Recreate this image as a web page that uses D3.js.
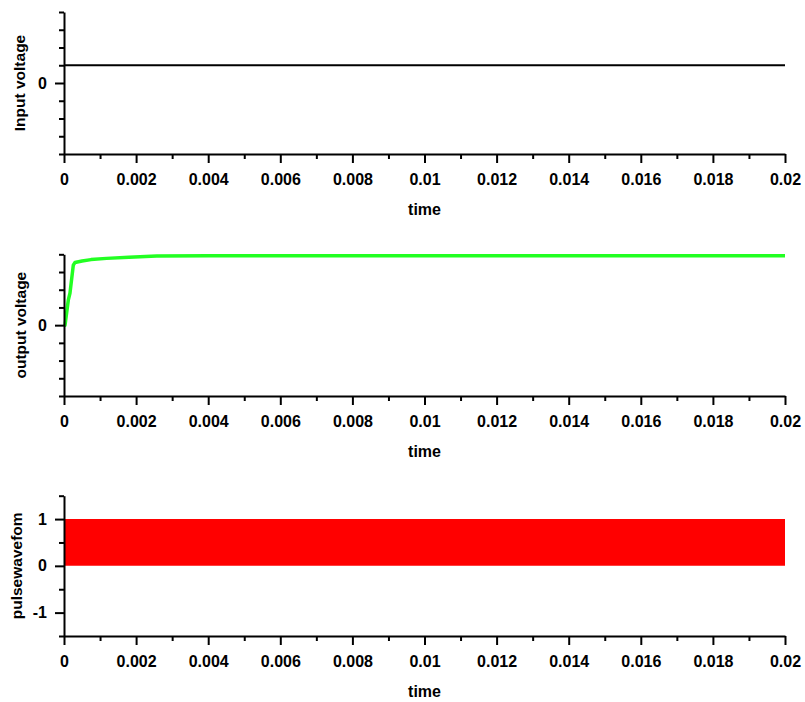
<!DOCTYPE html>
<html>
<head>
<meta charset="utf-8">
<script src="https://cdn.jsdelivr.net/npm/d3@7"></script>
<style>
  html, body { margin: 0; padding: 0; background: #fff; }
  svg { display: block; }
  text { font-family: "Liberation Sans", Arial, sans-serif; font-weight: bold; fill: #000; }
</style>
</head>
<body>
<svg id="chart" width="805" height="702"></svg>
<script>
// ---- data ----
const xTicks = [0, 0.002, 0.004, 0.006, 0.008, 0.01, 0.012, 0.014, 0.016, 0.018, 0.02];
const xMinorTicks = [0.001, 0.003, 0.005, 0.007, 0.009, 0.011, 0.013, 0.015, 0.017, 0.019];
const xTickLabels = ["0", "0.002", "0.004", "0.006", "0.008", "0.01", "0.012", "0.014", "0.016", "0.018", "0.02"];
const xLabel = "time";

const voltTicks = [0];
const voltMinorTicks = [-4, -3, -2, -1, 1, 2, 3, 4];
const voltTickLabels = ["0"];
const voltDomain = [-4, 4];

const pulseTicks = [-1, 0, 1];
const pulseMinorTicks = [-1.5, -0.5, 0.5, 1.5];
const pulseTickLabels = ["-1", "0", "1"];
const pulseDomain = [-1.5, 1.5];

const inputTime = [0, 0.02];
const inputVoltage = [1, 1];

const outputTime = [0, 0.0000277, 0.000119, 0.000166, 0.000258, 0.000305, 0.0005, 0.00075, 0.00118, 0.0018, 0.00257, 0.004, 0.01, 0.02];
const outputVoltage = [0, 0, 1.41, 1.81, 3.39, 3.54, 3.62, 3.7, 3.77, 3.84, 3.9, 3.92, 3.92, 3.92];

const pulseTime = [0, 0.02];
const pulseHigh = [1, 1];
const pulseLow = [0, 0];

const yLabels = ["Input voltage", "output voltage", "pulsewavefom"];

// ---- layout ----
const svg = d3.select("#chart");
const left = 64, right = 785;
const panels = [
  { top: 12, bottom: 154, domain: voltDomain, ticks: voltTicks, minor: voltMinorTicks, labels: voltTickLabels, ylab: yLabels[0], ylabX: 25 },
  { top: 254.3, bottom: 396, domain: voltDomain, ticks: voltTicks, minor: voltMinorTicks, labels: voltTickLabels, ylab: yLabels[1], ylabX: 26 },
  { top: 495.7, bottom: 636, domain: pulseDomain, ticks: pulseTicks, minor: pulseMinorTicks, labels: pulseTickLabels, ylab: yLabels[2], ylabX: 22 }
];

const x = d3.scaleLinear().domain([0, 0.02]).range([left, right]);

panels.forEach((p, i) => {
  const y = d3.scaleLinear().domain(p.domain).range([p.bottom, p.top]);
  p.y = y;
  const g = svg.append("g");

  // data marks
  if (i === 0) {
    const line = d3.line().x((d, k) => x(inputTime[k])).y(d => y(d));
    g.append("path").datum(inputVoltage).attr("d", line)
      .attr("fill", "none").attr("stroke", "#000").attr("stroke-width", 2);
  } else if (i === 1) {
    const line = d3.line().x((d, k) => x(outputTime[k])).y(d => y(d));
    g.append("path").datum(outputVoltage).attr("d", line)
      .attr("fill", "none").attr("stroke", "#22ff22").attr("stroke-width", 3.5)
      .attr("stroke-linejoin", "round");
  } else {
    const area = d3.area().x((d, k) => x(pulseTime[k])).y0((d, k) => y(pulseLow[k])).y1(d => y(d));
    g.append("path").datum(pulseHigh).attr("d", area).attr("fill", "#ff0000");
  }

  // x axis major
  const xAxis = d3.axisBottom(x).tickValues(xTicks)
    .tickFormat((d, k) => xTickLabels[k]).tickSize(9).tickSizeOuter(0).tickPadding(11);
  const gx = g.append("g").attr("transform", `translate(0,${p.bottom})`).call(xAxis);
  // x axis minor
  const gxm = g.append("g").attr("transform", `translate(0,${p.bottom})`)
    .call(d3.axisBottom(x).tickValues(xMinorTicks).tickFormat("").tickSize(5).tickSizeOuter(0));
  gxm.select(".domain").remove();

  // y axis major
  const yAxis = d3.axisLeft(y).tickValues(p.ticks)
    .tickFormat((d, k) => p.labels[k]).tickSize(9).tickSizeOuter(0).tickPadding(8);
  const gy = g.append("g").attr("transform", `translate(${left},0)`).call(yAxis);
  const gym = g.append("g").attr("transform", `translate(${left},0)`)
    .call(d3.axisLeft(y).tickValues(p.minor).tickFormat("").tickSize(5).tickSizeOuter(0));
  gym.select(".domain").remove();

  [gx, gxm, gy, gym].forEach(a => {
    a.selectAll("path, line").attr("stroke", "#000").attr("stroke-width", 2);
    a.selectAll("text").attr("font-size", 16).attr("font-family", "'Liberation Sans', Arial, sans-serif")
      .attr("font-weight", "bold").attr("fill", "#000");
  });

  // axis titles
  g.append("text").attr("x", (left + right) / 2).attr("y", p.bottom + 61)
    .attr("text-anchor", "middle").attr("font-size", 16).text(xLabel);
  g.append("text")
    .attr("transform", `translate(${p.ylabX},${(p.top + p.bottom) / 2}) rotate(-90)`)
    .attr("text-anchor", "middle").attr("font-size", 15.5).text(p.ylab);
});
</script>
</body>
</html>
